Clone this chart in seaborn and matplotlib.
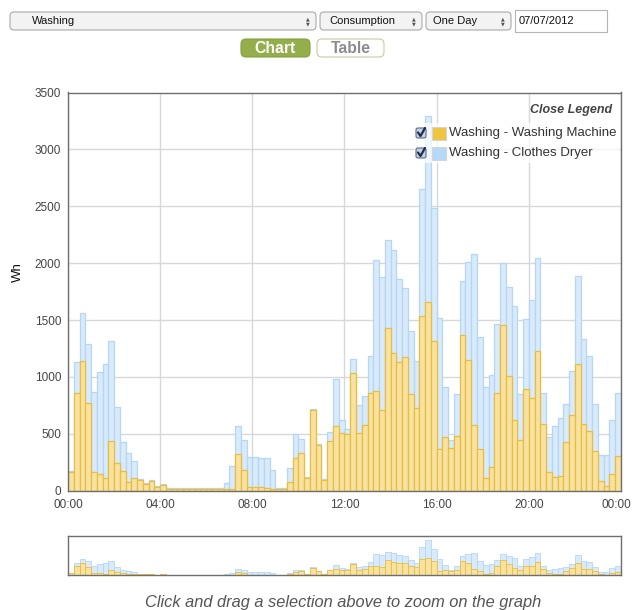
import numpy as np
import pandas as pd
import seaborn as sns
import matplotlib.pyplot as plt
from matplotlib.patches import FancyBboxPatch, Rectangle
from matplotlib.transforms import ScaledTranslation

# 15 minute slots over one day (96 slots)
washing_machine = [168, 855, 1143, 767, 162, 147, 109, 434, 245, 171, 74, 109, 94, 59, 86, 35,
                   50, 15, 15, 15, 15, 15, 15, 15, 15, 15, 15, 12, 12, 325, 183, 30,
                   30, 30, 24, 15, 15, 15, 79, 285, 335, 109, 706, 403, 94, 438, 571, 506,
                   497, 1035, 506, 579, 859, 879, 712, 1432, 1206, 1129, 1176, 850, 726, 1535, 1659, 1312,
                   368, 476, 376, 482, 1371, 1147, 574, 368, 109, 212, 859, 1460, 1009, 624, 450, 894,
                   812, 1232, 588, 162, 124, 129, 426, 668, 1118, 588, 529, 353, 88, 41, 147, 306]
clothes_dryer = [9, 275, 415, 525, 702, 897, 1006, 885, 487, 257, 259, 148, 6, 6, 9, 5,
                 10, 10, 7, 5, 5, 5, 5, 5, 5, 5, 5, 53, 204, 246, 261, 266,
                 266, 260, 266, 163, 5, 5, 118, 215, 118, 15, 10, 9, 9, 77, 411, 118,
                 47, 124, 250, 250, 329, 1150, 1162, 771, 909, 730, 603, 553, 414, 1118, 1631, 1173,
                 1153, 433, 71, 368, 473, 865, 1505, 985, 803, 803, 609, 543, 785, 996, 400, 618,
                 864, 809, 271, 314, 441, 509, 336, 388, 770, 741, 659, 409, 227, 274, 477, 553]
tick_labels = ['00:00', '04:00', '08:00', '12:00', '16:00', '20:00', '00:00']

df = pd.DataFrame({'slot': np.arange(96),
                   'machine': washing_machine,
                   'dryer': clothes_dryer})
df['total'] = df['machine'] + df['dryer']

sns.set_style('white')
plt.rcParams['font.family'] = ['Liberation Sans', 'DejaVu Sans']

yellow_fill, yellow_edge = '#f8e2a2', '#ebbd3c'
blue_fill, blue_edge = '#d9eafa', '#b4d7f4'

fig = plt.figure(figsize=(6.32, 6.10), dpi=100)

# main chart
ax = fig.add_axes([68 / 632, 1 - 490.7 / 610, 553 / 632, 398.2 / 610])
sns.barplot(data=df, x='slot', y='total', color=blue_fill, edgecolor=blue_edge,
            linewidth=0.9, width=1, saturation=1, errorbar=None, ax=ax)
sns.barplot(data=df, x='slot', y='machine', color=yellow_fill, edgecolor=yellow_edge,
            linewidth=0.9, width=1, saturation=1, errorbar=None, ax=ax)
ax.set_xlim(-0.5, 95.5)
ax.set_ylim(0, 3500)
ax.set_xticks(np.arange(7) * 16 - 0.5)
ax.set_xticklabels(tick_labels)
ax.set_yticks(np.arange(0, 3501, 500))
ax.set_xlabel('')
ax.set_ylabel('')
ax.set_axisbelow(True)
ax.grid(True, color='#d8d8d8', linewidth=1)
ax.tick_params(length=0, labelsize=8.5, labelcolor='#444444')
ax.tick_params(axis='y', pad=5)
ax.tick_params(axis='x', pad=6)
last = ax.get_xticklabels()[-1]
last.set_horizontalalignment('right')
last.set_transform(last.get_transform() + ScaledTranslation(0.105, 0, fig.dpi_scale_trans))
for s in ax.spines.values():
    s.set_color('#6e6e6e')
    s.set_linewidth(1)
fig.text(0.028, 0.554, 'Wh', rotation=90, fontsize=9.5, color='#111111',
         ha='center', va='center')

# overview chart
ov = fig.add_axes([68 / 632, 1 - 575 / 610, 553 / 632, 39 / 610])
sns.barplot(data=df, x='slot', y='total', color=blue_fill, edgecolor=blue_edge,
            linewidth=0.6, width=1, saturation=1, errorbar=None, ax=ov)
sns.barplot(data=df, x='slot', y='machine', color=yellow_fill, edgecolor=yellow_edge,
            linewidth=0.6, width=1, saturation=1, errorbar=None, ax=ov)
ov.set_xlim(-0.5, 95.5)
ov.set_ylim(0, 3700)
ov.set_xticks([])
ov.set_yticks([])
ov.set_xlabel('')
ov.set_ylabel('')
for s in ov.spines.values():
    s.set_color('#6e6e6e')
    s.set_linewidth(1)

# page controls and legend in pixel coordinates
ui = fig.add_axes([0, 0, 1, 1], zorder=10)
ui.set_xlim(0, 632)
ui.set_ylim(610, 0)
ui.axis('off')

selects = [(10, 306, 'Washing', 32), (320, 102, 'Consumption', 329), (426, 85, 'One Day', 433)]
for x0, w, label, tx in selects:
    ui.add_patch(FancyBboxPatch((x0, 12), w, 18, boxstyle='round,pad=0,rounding_size=4',
                                fc='#f3f3f3', ec='#a9a9a9', lw=0.8))
    ui.text(tx, 21.5, label, fontsize=8, color='#111111', va='center')
    ui.text(x0 + w - 8, 18.5, '▲', fontsize=3.5, color='#555555', ha='center', va='center',
            family=['DejaVu Sans'])
    ui.text(x0 + w - 8, 23.5, '▼', fontsize=3.5, color='#555555', ha='center', va='center',
            family=['DejaVu Sans'])
ui.add_patch(Rectangle((515, 10), 92, 22, fc='white', ec='#b5b5b5', lw=0.8))
ui.text(519, 21.5, '07/07/2012', fontsize=8, color='#111111', va='center')

ui.add_patch(FancyBboxPatch((241, 39), 69, 18, boxstyle='round,pad=0,rounding_size=5',
                            fc='#93ae4a', ec='#84a03e', lw=0.8))
ui.text(275.5, 48.5, 'Chart', fontsize=11.3, fontweight='bold', color='white',
        ha='center', va='center')
ui.add_patch(FancyBboxPatch((317, 39), 67, 18, boxstyle='round,pad=0,rounding_size=5',
                            fc='white', ec='#cbc9a2', lw=0.8))
ui.text(350.5, 48.5, 'Table', fontsize=11.3, fontweight='bold', color='#8c8c8c',
        ha='center', va='center')

ui.add_patch(Rectangle((414, 123), 206, 40, fc='white', ec='none', alpha=0.7))
ui.text(612, 110, 'Close Legend', fontsize=9, fontweight='bold', style='italic',
        color='#444444', ha='right', va='center')
legend_rows = [(133, '#efc43f', 'Washing - Washing Machine'),
               (153, '#b5d9f6', 'Washing - Clothes Dryer')]
for y, col, label in legend_rows:
    ui.add_patch(FancyBboxPatch((416, y - 5), 10, 10, boxstyle='round,pad=0,rounding_size=2',
                                fc='#c8d2e4', ec='#5b6b8a', lw=0.8))
    ui.plot([418, 420.5, 425], [y - 0.5, y + 3, y - 5], color='#1f2d4d', lw=1.6,
            solid_capstyle='round')
    ui.add_patch(Rectangle((432, y - 6.5), 14, 13, fc=col, ec='#d5d5d5', lw=0.8))
    ui.text(449, y, label, fontsize=9.5, color='#333333', va='center')

ui.text(343, 602, 'Click and drag a selection above to zoom on the graph', fontsize=11.8,
        style='italic', color='#555555', ha='center', va='center')

fig.savefig('out.png', dpi=100)
